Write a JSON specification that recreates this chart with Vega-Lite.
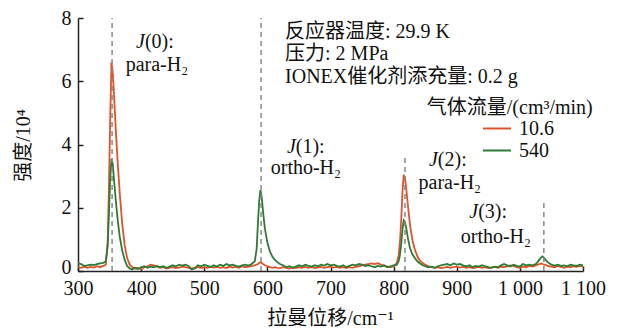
{
  "$schema": "https://vega.github.io/schema/vega-lite/v6.json",
  "width": 505,
  "height": 253,
  "autosize": "none",
  "padding": {"left": 78, "top": 18, "right": 41, "bottom": 58},
  "config": {
    "font": "Liberation Serif, DejaVu Serif, Noto Sans CJK SC",
    "view": {"stroke": null},
    "axis": {
      "grid": false,
      "domainColor": "#222",
      "tickColor": "#222",
      "domainWidth": 1.5,
      "tickWidth": 1.5,
      "labelColor": "#111",
      "titleColor": "#111",
      "labelFontSize": 20,
      "titleFontSize": 20,
      "titleFontWeight": "normal"
    },
    "text": {"font": "Liberation Serif, DejaVu Serif, Noto Sans CJK SC", "fontSize": 20, "color": "#111"}
  },
  "datasets": {
    "spec": [
      {"x":300,"a":0.12,"b":0.25},{"x":305,"a":0.10,"b":0.22},{"x":310,"a":0.14,"b":0.16},{"x":315,"a":0.10,"b":0.18},
      {"x":320,"a":0.13,"b":0.20},{"x":325,"a":0.11,"b":0.19},{"x":330,"a":0.15,"b":0.22},{"x":335,"a":0.12,"b":0.24},
      {"x":340,"a":0.16,"b":0.26},{"x":344,"a":0.20,"b":0.30},{"x":347,"a":0.9,"b":0.8},{"x":349,"a":2.6,"b":1.8},
      {"x":351,"a":4.8,"b":2.9},{"x":353,"a":6.6,"b":3.55},{"x":355,"a":6.3,"b":3.4},{"x":357,"a":5.6,"b":2.9},
      {"x":360,"a":4.4,"b":2.2},{"x":363,"a":3.4,"b":1.6},{"x":366,"a":2.5,"b":1.1},{"x":370,"a":1.5,"b":0.65},
      {"x":374,"a":0.8,"b":0.35},{"x":378,"a":0.4,"b":0.15},{"x":382,"a":0.2,"b":0.08},{"x":386,"a":0.12,"b":0.05},
      {"x":390,"a":0.08,"b":0.10},{"x":395,"a":0.10,"b":0.06},{"x":400,"a":0.06,"b":0.12},{"x":405,"a":0.12,"b":0.15},
      {"x":410,"a":0.15,"b":0.10},{"x":415,"a":0.20,"b":0.14},{"x":420,"a":0.18,"b":0.12},{"x":425,"a":0.14,"b":0.16},
      {"x":430,"a":0.10,"b":0.12},{"x":435,"a":0.12,"b":0.15},{"x":440,"a":0.08,"b":0.10},{"x":445,"a":0.10,"b":0.14},
      {"x":450,"a":0.12,"b":0.18},{"x":455,"a":0.09,"b":0.14},{"x":460,"a":0.11,"b":0.20},{"x":465,"a":0.14,"b":0.17},
      {"x":470,"a":0.12,"b":0.20},{"x":475,"a":0.10,"b":0.16},{"x":480,"a":0.08,"b":0.05},{"x":485,"a":0.10,"b":0.08},
      {"x":490,"a":0.12,"b":0.18},{"x":495,"a":0.09,"b":0.15},{"x":500,"a":0.12,"b":0.20},{"x":505,"a":0.10,"b":0.16},
      {"x":510,"a":0.14,"b":0.12},{"x":515,"a":0.11,"b":0.18},{"x":520,"a":0.13,"b":0.14},{"x":525,"a":0.10,"b":0.20},
      {"x":530,"a":0.12,"b":0.16},{"x":535,"a":0.09,"b":0.22},{"x":540,"a":0.14,"b":0.18},{"x":545,"a":0.11,"b":0.20},
      {"x":550,"a":0.13,"b":0.16},{"x":555,"a":0.10,"b":0.14},{"x":560,"a":0.15,"b":0.18},{"x":565,"a":0.12,"b":0.20},
      {"x":570,"a":0.14,"b":0.17},{"x":575,"a":0.16,"b":0.22},{"x":580,"a":0.18,"b":0.30},{"x":583,"a":0.20,"b":0.7},
      {"x":585,"a":0.22,"b":1.5},{"x":587,"a":0.25,"b":2.2},{"x":589,"a":0.28,"b":2.56},{"x":591,"a":0.25,"b":2.35},
      {"x":593,"a":0.22,"b":1.9},{"x":596,"a":0.18,"b":1.35},{"x":600,"a":0.15,"b":0.9},{"x":604,"a":0.12,"b":0.62},
      {"x":608,"a":0.10,"b":0.45},{"x":612,"a":0.12,"b":0.35},{"x":616,"a":0.10,"b":0.28},{"x":620,"a":0.09,"b":0.22},
      {"x":625,"a":0.12,"b":0.18},{"x":630,"a":0.10,"b":0.12},{"x":635,"a":0.08,"b":0.15},{"x":640,"a":0.11,"b":0.10},
      {"x":645,"a":0.09,"b":0.14},{"x":650,"a":0.12,"b":0.18},{"x":655,"a":0.10,"b":0.15},{"x":660,"a":0.13,"b":0.20},
      {"x":665,"a":0.10,"b":0.16},{"x":670,"a":0.12,"b":0.14},{"x":675,"a":0.09,"b":0.18},{"x":680,"a":0.11,"b":0.15},
      {"x":685,"a":0.13,"b":0.20},{"x":690,"a":0.10,"b":0.17},{"x":695,"a":0.12,"b":0.22},{"x":700,"a":0.14,"b":0.18},
      {"x":705,"a":0.11,"b":0.20},{"x":710,"a":0.13,"b":0.16},{"x":715,"a":0.10,"b":0.14},{"x":720,"a":0.12,"b":0.18},
      {"x":725,"a":0.09,"b":0.12},{"x":730,"a":0.12,"b":0.16},{"x":735,"a":0.10,"b":0.20},{"x":740,"a":0.13,"b":0.18},
      {"x":745,"a":0.15,"b":0.22},{"x":750,"a":0.18,"b":0.20},{"x":755,"a":0.20,"b":0.16},{"x":760,"a":0.22,"b":0.18},
      {"x":765,"a":0.24,"b":0.15},{"x":770,"a":0.22,"b":0.12},{"x":775,"a":0.25,"b":0.16},{"x":780,"a":0.20,"b":0.14},
      {"x":785,"a":0.16,"b":0.18},{"x":790,"a":0.14,"b":0.12},{"x":795,"a":0.12,"b":0.15},{"x":800,"a":0.15,"b":0.18},
      {"x":805,"a":0.25,"b":0.20},{"x":808,"a":0.5,"b":0.32},{"x":810,"a":0.9,"b":0.5},{"x":812,"a":1.6,"b":0.85},
      {"x":814,"a":2.5,"b":1.3},{"x":816,"a":3.04,"b":1.6},{"x":818,"a":2.95,"b":1.55},{"x":820,"a":2.6,"b":1.35},
      {"x":823,"a":2.0,"b":1.0},{"x":826,"a":1.45,"b":0.72},{"x":830,"a":0.95,"b":0.52},{"x":834,"a":0.65,"b":0.40},
      {"x":838,"a":0.45,"b":0.30},{"x":842,"a":0.32,"b":0.24},{"x":846,"a":0.25,"b":0.18},{"x":850,"a":0.20,"b":0.15},
      {"x":855,"a":0.15,"b":0.12},{"x":860,"a":0.12,"b":0.14},{"x":865,"a":0.10,"b":0.10},{"x":870,"a":0.12,"b":0.15},
      {"x":875,"a":0.09,"b":0.18},{"x":880,"a":0.11,"b":0.20},{"x":885,"a":0.13,"b":0.22},{"x":890,"a":0.10,"b":0.18},
      {"x":895,"a":0.12,"b":0.24},{"x":900,"a":0.14,"b":0.20},{"x":905,"a":0.11,"b":0.22},{"x":910,"a":0.13,"b":0.18},
      {"x":915,"a":0.10,"b":0.15},{"x":920,"a":0.12,"b":0.18},{"x":925,"a":0.09,"b":0.12},{"x":930,"a":0.11,"b":0.16},
      {"x":935,"a":0.13,"b":0.14},{"x":940,"a":0.10,"b":0.18},{"x":945,"a":0.12,"b":0.15},{"x":950,"a":0.09,"b":0.12},
      {"x":955,"a":0.11,"b":0.10},{"x":960,"a":0.13,"b":0.14},{"x":965,"a":0.10,"b":0.12},{"x":970,"a":0.14,"b":0.18},
      {"x":975,"a":0.12,"b":0.22},{"x":980,"a":0.15,"b":0.18},{"x":985,"a":0.18,"b":0.14},{"x":990,"a":0.16,"b":0.20},
      {"x":995,"a":0.12,"b":0.16},{"x":1000,"a":0.10,"b":0.14},{"x":1005,"a":0.14,"b":0.22},{"x":1010,"a":0.12,"b":0.18},
      {"x":1015,"a":0.16,"b":0.20},{"x":1020,"a":0.14,"b":0.18},{"x":1025,"a":0.18,"b":0.22},{"x":1028,"a":0.20,"b":0.28},
      {"x":1031,"a":0.22,"b":0.36},{"x":1034,"a":0.24,"b":0.44},{"x":1036,"a":0.22,"b":0.46},{"x":1039,"a":0.20,"b":0.40},
      {"x":1042,"a":0.18,"b":0.32},{"x":1046,"a":0.15,"b":0.25},{"x":1050,"a":0.14,"b":0.20},{"x":1055,"a":0.12,"b":0.17},
      {"x":1060,"a":0.16,"b":0.20},{"x":1065,"a":0.13,"b":0.16},{"x":1070,"a":0.10,"b":0.18},{"x":1075,"a":0.14,"b":0.15},
      {"x":1080,"a":0.12,"b":0.20},{"x":1085,"a":0.15,"b":0.18},{"x":1090,"a":0.13,"b":0.16},{"x":1095,"a":0.16,"b":0.20},
      {"x":1100,"a":0.14,"b":0.18}
    ],
    "refs": [
      {"x":354,"y1":0,"y2":8},
      {"x":590,"y1":0,"y2":8},
      {"x":818,"y1":0,"y2":3.6},
      {"x":1038,"y1":0,"y2":2.25}
    ],
    "one": [{}]
  },
  "layer": [
    {
      "data": {"name": "spec"},
      "transform": [{"fold": ["a", "b"], "as": ["k", "v"]}],
      "mark": {"type": "line", "strokeWidth": 1.8},
      "encoding": {
        "x": {
          "field": "x", "type": "quantitative",
          "scale": {"domain": [300, 1100], "nice": false, "zero": false},
          "axis": {
            "title": "拉曼位移/cm⁻¹",
            "values": [300, 400, 500, 600, 700, 800, 900, 1000, 1100],
            "labelExpr": "replace(format(datum.value, ','), ',', ' ')",
            "tickSize": -5,
            "labelPadding": 12,
            "labelFlush": false,
            "titleX": 252,
            "titleY": 47,
            "titleBaseline": "middle"
          }
        },
        "y": {
          "field": "v", "type": "quantitative",
          "scale": {"domain": [0, 8], "nice": false},
          "axis": {
            "title": "强度/10⁴",
            "values": [0, 2, 4, 6, 8],
            "tickSize": -5,
            "labelPadding": 12,
            "labelOffset": {"condition": {"test": "datum.value === 0", "value": -4}, "value": 0},
            "titleX": -55,
            "titleY": 127,
            "titleBaseline": "middle"
          }
        },
        "color": {
          "field": "k", "type": "nominal",
          "scale": {"domain": ["a", "b"], "range": ["#e0522a", "#2e7b36"]},
          "legend": {
            "title": null,
            "orient": "none",
            "legendX": 404,
            "legendY": 100,
            "padding": 0,
            "symbolType": "stroke",
            "symbolSize": 784,
            "symbolStrokeWidth": 2,
            "labelFontSize": 20,
            "labelOffset": 7,
            "clipHeight": 21,
            "rowPadding": 1,
            "labelColor": "#111",
            "labelExpr": "datum.value == 'a' ? '10.6' : '540'"
          }
        }
      }
    },
    {
      "data": {"name": "refs"},
      "mark": {"type": "rule", "color": "#888888", "strokeWidth": 1.5, "strokeDash": [5, 4]},
      "encoding": {
        "x": {"field": "x", "type": "quantitative"},
        "y": {"field": "y1", "type": "quantitative"},
        "y2": {"field": "y2"}
      }
    },
    {
      "data": {"name": "one"},
      "layer": [
        {
          "mark": {"type": "text", "align": "center", "baseline": "middle", "text": "气体流量/(cm³/min)"},
          "encoding": {"x": {"datum": 984}, "y": {"datum": 5.16}}
        },
        {
          "mark": {"type": "text", "align": "left", "baseline": "middle", "lineHeight": 22.5,
                   "text": ["反应器温度: 29.9 K", "压力: 2 MPa", "IONEX催化剂添充量: 0.2 g"]},
          "encoding": {"x": {"datum": 628}, "y": {"datum": 7.56}}
        },
        {
          "mark": {"type": "text", "align": "right", "baseline": "middle", "fontStyle": "italic", "text": "J"},
          "encoding": {"x": {"datum": 406}, "y": {"datum": 7.25}}
        },
        {
          "mark": {"type": "text", "align": "left", "baseline": "middle", "text": "(0):"},
          "encoding": {"x": {"datum": 406}, "y": {"datum": 7.25}}
        },
        {
          "mark": {"type": "text", "align": "center", "baseline": "middle", "text": "para-H₂"},
          "encoding": {"x": {"datum": 425}, "y": {"datum": 6.5}}
        },
        {
          "mark": {"type": "text", "align": "right", "baseline": "middle", "fontStyle": "italic", "text": "J"},
          "encoding": {"x": {"datum": 645}, "y": {"datum": 3.92}}
        },
        {
          "mark": {"type": "text", "align": "left", "baseline": "middle", "text": "(1):"},
          "encoding": {"x": {"datum": 645}, "y": {"datum": 3.92}}
        },
        {
          "mark": {"type": "text", "align": "center", "baseline": "middle", "text": "ortho-H₂"},
          "encoding": {"x": {"datum": 661}, "y": {"datum": 3.26}}
        },
        {
          "mark": {"type": "text", "align": "right", "baseline": "middle", "fontStyle": "italic", "text": "J"},
          "encoding": {"x": {"datum": 870}, "y": {"datum": 3.51}}
        },
        {
          "mark": {"type": "text", "align": "left", "baseline": "middle", "text": "(2):"},
          "encoding": {"x": {"datum": 870}, "y": {"datum": 3.51}}
        },
        {
          "mark": {"type": "text", "align": "center", "baseline": "middle", "text": "para-H₂"},
          "encoding": {"x": {"datum": 889}, "y": {"datum": 2.78}}
        },
        {
          "mark": {"type": "text", "align": "right", "baseline": "middle", "fontStyle": "italic", "text": "J"},
          "encoding": {"x": {"datum": 934}, "y": {"datum": 1.87}}
        },
        {
          "mark": {"type": "text", "align": "left", "baseline": "middle", "text": "(3):"},
          "encoding": {"x": {"datum": 934}, "y": {"datum": 1.87}}
        },
        {
          "mark": {"type": "text", "align": "center", "baseline": "middle", "text": "ortho-H₂"},
          "encoding": {"x": {"datum": 962}, "y": {"datum": 1.08}}
        }
      ]
    }
  ]
}
